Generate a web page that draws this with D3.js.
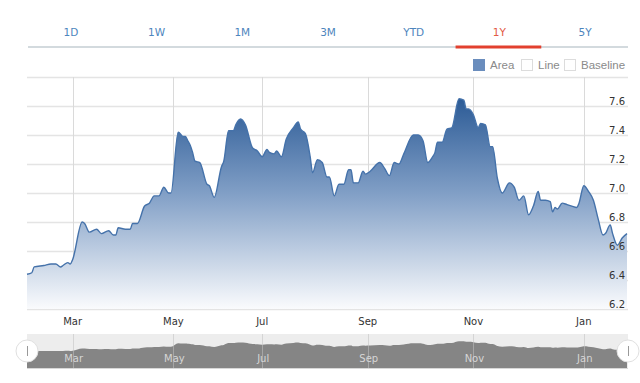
<!DOCTYPE html>
<html>
<head>
<meta charset="utf-8">
<script src="https://cdn.jsdelivr.net/npm/d3@7/dist/d3.min.js"></script>
<style>
html,body{margin:0;padding:0;background:#fff;}
svg{display:block;}
</style>
</head>
<body>
<svg id="chart" width="640" height="383"></svg>
<script>
// ---- data ----
const rangeTabs = ["1D","1W","1M","3M","YTD","1Y","5Y"];
const activeTab = "1Y";
const legendItems = ["Area","Line","Baseline"];
const dayIndex = [0,2,3,7,10,12,14,15,17,18,19,23,24,26,29,31,34,36,37,38,41,43,44,46,49,51,53,55,57,59,60,63,65,66,67,68,69,70,72,75,76,78,81,82,84,86,87,89,91,94,96,98,100,101,103,104,106,108,111,113,114,116,118,119,121,123,125,126,128,130,132,134,135,136,138,140,141,143,147,149,151,153,155,157,161,163,165,167,169,170,171,173,175,177,180,182,183,184,186,188,189,191,193,194,196,198,201,203,205,207,209,211,213,214,216,218,219,220,221,223,225,227,229,230,232,234,236,238,240,241,243,244,246,248,250];
const price = [6.44,6.45,6.49,6.50,6.51,6.51,6.49,6.50,6.52,6.51,6.54,6.80,6.79,6.73,6.75,6.72,6.74,6.71,6.71,6.76,6.75,6.75,6.79,6.79,6.91,6.93,6.98,6.98,7.04,7.00,7.00,7.42,7.39,7.39,7.36,7.33,7.28,7.22,7.21,7.06,7.05,6.97,7.18,7.22,7.43,7.43,7.47,7.51,7.47,7.31,7.29,7.25,7.30,7.28,7.27,7.29,7.25,7.37,7.45,7.49,7.44,7.41,7.25,7.14,7.23,7.21,7.11,7.11,6.98,7.06,7.06,7.16,7.16,7.07,7.07,7.15,7.13,7.15,7.21,7.17,7.12,7.21,7.20,7.27,7.40,7.40,7.36,7.21,7.25,7.28,7.35,7.35,7.44,7.45,7.65,7.64,7.58,7.58,7.54,7.45,7.48,7.47,7.32,7.32,7.10,7.00,7.07,7.04,6.95,6.98,6.85,6.91,7.01,6.95,6.95,6.94,6.87,6.90,6.89,6.93,6.92,6.91,6.90,6.93,7.05,7.01,6.95,6.82,6.71,6.72,6.78,6.72,6.64,6.69,6.72];
const monthLabels = ["Mar","May","Jul","Sep","Nov","Jan"];
const monthTickIndex = [19,61,98,142,186,232];
const yTicks = [6.2,6.4,6.6,6.8,7.0,7.2,7.4,7.6];
const yDomain = [6.2,7.8];
const navDomain = [4.5,8.5];

const data = dayIndex.map((d,i)=>({i:d, v:price[i]}));

const svg = d3.select("#chart");
const L = 27, R = 628;
const plotTop = 77, plotBottom = 309;

// ---- tabs ----
const tabX = d3.scaleBand().domain(rangeTabs).range([L+1, R]);
svg.append("line").attr("x1",L+1).attr("x2",R).attr("y1",47).attr("y2",47)
  .attr("stroke","#d3dade").attr("stroke-width",2);
svg.selectAll(".tab").data(rangeTabs).enter().append("text")
  .attr("x",d=>tabX(d)+tabX.bandwidth()/2).attr("y",36)
  .attr("text-anchor","middle")
  .attr("font-family","DejaVu Sans, Verdana, sans-serif").attr("font-size",10.5)
  .attr("fill",d=>d===activeTab?"#e35a45":"#4d85bd")
  .text(d=>d);
svg.append("line").attr("x1",tabX(activeTab)-1).attr("x2",tabX(activeTab)+tabX.bandwidth()-1)
  .attr("y1",47).attr("y2",47).attr("stroke","#e2402e").attr("stroke-width",3);

// ---- legend ----
const legX = [473,521,564];
legendItems.forEach((t,k)=>{
  svg.append("rect").attr("x",legX[k]+0.5).attr("y",59.5).attr("width",11).attr("height",11)
    .attr("fill",k===0?"#6a8dbd":"#fff").attr("stroke",k===0?"#6a8dbd":"#dcdcdc");
  svg.append("text").attr("x",legX[k]+17).attr("y",69)
    .attr("font-family","Liberation Sans, Arial, sans-serif").attr("font-size",11.5)
    .attr("fill","#8a8a8a").text(t);
});

// ---- scales ----
const x = d3.scaleLinear().domain([0,250]).range([L, 627]);
const y = d3.scaleLinear().domain(yDomain).range([plotBottom, plotTop]);

// grid
const gridY = d3.range(6.2, 7.81, 0.2);
svg.append("g").selectAll("line").data(gridY).enter().append("line")
  .attr("x1",L).attr("x2",R).attr("y1",d=>Math.round(y(d))+0.5).attr("y2",d=>Math.round(y(d))+0.5)
  .attr("stroke","#e4e4e4").attr("stroke-width",1.5);
svg.append("g").selectAll("line").data(monthTickIndex).enter().append("line")
  .attr("x1",d=>Math.round(x(d))+0.5).attr("x2",d=>Math.round(x(d))+0.5)
  .attr("y1",plotTop).attr("y2",plotBottom)
  .attr("stroke","#dadada").attr("stroke-width",1);

// gradient
const defs = svg.append("defs");
const grad = defs.append("linearGradient").attr("id","areaGrad")
  .attr("gradientUnits","userSpaceOnUse").attr("x1",0).attr("x2",0)
  .attr("y1",y(d3.max(price))).attr("y2",plotBottom);
grad.append("stop").attr("offset",0).attr("stop-color","#2c5b96");
grad.append("stop").attr("offset",0.45).attr("stop-color","#819fc6");
grad.append("stop").attr("offset",1).attr("stop-color","#fafbfd");

const area = d3.area().x(d=>x(d.i)).y0(plotBottom).y1(d=>y(d.v)).curve(d3.curveMonotoneX);
const line = d3.line().x(d=>x(d.i)).y(d=>y(d.v)).curve(d3.curveMonotoneX);
svg.append("path").datum(data).attr("d",area).attr("fill","url(#areaGrad)");
svg.append("path").datum(data).attr("d",line).attr("fill","none")
  .attr("stroke","#4572aa").attr("stroke-width",1.4);

// y labels
svg.append("g").selectAll("text").data(yTicks).enter().append("text")
  .attr("x",625).attr("y",d=>y(d)-1.5).attr("text-anchor","end")
  .attr("font-family","DejaVu Sans, Verdana, sans-serif").attr("font-size",10)
  .attr("fill","#333").text(d=>d.toFixed(1));

// x labels
svg.append("g").selectAll("text").data(monthLabels).enter().append("text")
  .attr("x",(d,k)=>x(monthTickIndex[k])).attr("y",325).attr("text-anchor","middle")
  .attr("font-family","DejaVu Sans, Verdana, sans-serif").attr("font-size",10)
  .attr("fill","#333").text(d=>d);

// ---- navigator ----
const navTop = 334, navBottom = 368;
const ny = d3.scaleLinear().domain(navDomain).range([navBottom, navTop]);
svg.append("rect").attr("x",L).attr("y",navTop).attr("width",R-L).attr("height",navBottom-navTop)
  .attr("fill","#ededed");
svg.append("g").selectAll("line").data(monthTickIndex).enter().append("line")
  .attr("x1",d=>Math.round(x(d))+0.5).attr("x2",d=>Math.round(x(d))+0.5)
  .attr("y1",navTop).attr("y2",navBottom).attr("stroke","#fafafa").attr("stroke-width",1);
const navArea = d3.area().x(d=>x(d.i)).y0(navBottom).y1(d=>ny(d.v)).curve(d3.curveMonotoneX);
svg.append("path").datum(data).attr("d",navArea).attr("fill","#858585").attr("fill-opacity",1);
svg.append("g").selectAll("line").data(monthTickIndex).enter().append("line")
  .attr("x1",d=>Math.round(x(d))+0.5).attr("x2",d=>Math.round(x(d))+0.5)
  .attr("y1",navTop).attr("y2",navBottom).attr("stroke","#bdbdbd").attr("stroke-opacity",0.6).attr("stroke-width",1);
svg.append("g").selectAll("text").data(monthLabels).enter().append("text")
  .attr("x",(d,k)=>x(monthTickIndex[k])+1).attr("y",362).attr("text-anchor","middle")
  .attr("font-family","DejaVu Sans, Verdana, sans-serif").attr("font-size",10)
  .attr("fill","#d6d6d6").text(d=>d);
svg.append("line").attr("x1",L).attr("x2",R).attr("y1",navBottom+0.5).attr("y2",navBottom+0.5)
  .attr("stroke","#d8d8d8");
// handles
[L, R].forEach(hx=>{
  svg.append("circle").attr("cx",hx).attr("cy",351).attr("r",11)
    .attr("fill","#fff").attr("stroke","#e0e0e0");
  svg.append("line").attr("x1",hx+0.5).attr("x2",hx+0.5).attr("y1",346).attr("y2",356)
    .attr("stroke","#999");
});
</script>
</body>
</html>
